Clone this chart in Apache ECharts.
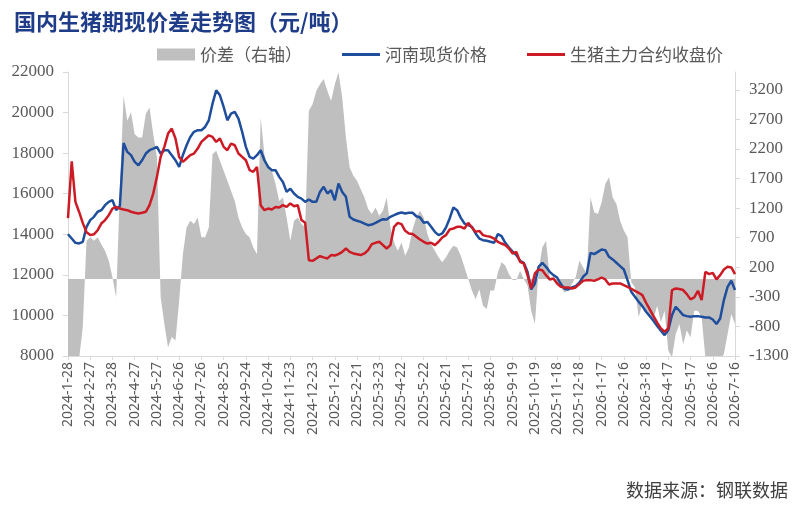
<!DOCTYPE html>
<html>
<head>
<meta charset="utf-8">
<script src="https://cdn.jsdelivr.net/npm/echarts@6/dist/echarts.min.js"></script>
<style>
  html, body { margin: 0; padding: 0; background: #fff; }
  #main { width: 800px; height: 506px; }
</style>
</head>
<body>
<div id="main"></div>
<script>
// 5-day steps from 2024-1-28, labels every 30 days
const startDate = [2024, 1, 28]
const stepDays = 5
const pointCount = 181

const rightTicks = [-1300, -800, -300, 200, 700, 1200, 1700, 2200, 2700, 3200]

// 河南现货价格 (left axis)
const henanSpot = [
  14000, 13790, 13580, 13550, 13630, 14370, 14700, 14860, 15110, 15190,
  15435, 15600, 15680, 15190, 15400, 18500, 18060, 17900, 17570, 17400,
  17650, 17980, 18145, 18225, 18310, 17980, 18145, 18145, 17900, 17650,
  17320, 17900, 18390, 18800, 19050, 19130, 19130, 19290, 19620, 20440,
  21100, 20850, 20280, 19620, 19950, 20030, 19700, 19050, 18310, 17815,
  17730, 17900, 18145, 17650, 17320, 17160, 17160, 16830, 16580, 16090,
  16250, 16010, 15845, 15760, 15600, 15715, 15600, 15600, 16090, 16340,
  16010, 16170, 15680, 16500, 16090, 15845, 14860, 14730, 14665, 14610,
  14530, 14450, 14480, 14565, 14665, 14745, 14730, 14860, 14940, 15025,
  15075, 15025, 15060, 15060, 14890, 14830, 14565, 14610, 14370, 14120,
  13960, 14040, 14335, 14780, 15320, 15190, 14810, 14530, 14450, 14370,
  14040, 13790, 13710, 13680, 13630, 13580, 14010, 13910, 13580, 13350,
  13150, 12970, 12690, 12595, 12150, 11280, 11575, 12395, 12595, 12395,
  12150, 11985, 11870, 11545, 11315, 11280, 11380, 11445, 11610, 11905,
  12070, 13085, 13020, 13135, 13250, 13220, 12890, 12760, 12595, 12430,
  12265, 11740, 11165, 10920, 10675, 10460, 10180, 9965, 9735, 9475,
  9245, 9030, 9280, 10015, 10425, 10230, 10015, 9965, 9935, 9965,
  9965, 9935, 9900, 9900, 9800, 9575, 9850, 10755, 11410, 11710,
  11250
]

// 生猪主力合约收盘价 (left axis)
const futuresClose = [
  14800, 17600, 15600, 15100, 14550, 14100, 13960, 14000, 14200, 14530,
  14700, 14940, 15270, 15350, 15270, 15220, 15190, 15110, 15060, 15025,
  15060, 15110, 15435, 16010, 16830, 17815, 18310, 18965, 19210, 18720,
  17815, 17570, 17735, 17900, 17980, 18225, 18555, 18720, 18880, 18800,
  18555, 18720, 18310, 18145, 18470, 18390, 17980, 17815, 17650, 17160,
  17080, 17320, 15435, 15190, 15270, 15220, 15350, 15320, 15435, 15350,
  15520, 15385, 15435, 14700, 14565, 12725, 12690, 12810, 12920, 12860,
  12810, 12975, 12955, 13020, 13135, 13300, 13135, 13055, 13020, 12975,
  13055, 13220, 13515, 13580, 13630, 13465, 13300, 13465, 14370, 14565,
  14500, 14170, 14040, 14010, 13875, 13745, 13630, 13545, 13580, 13465,
  13630, 13840, 13960, 14235, 14285, 14370, 14370, 14285, 14565, 14335,
  14120, 14170, 13960, 13910, 13875, 13790, 13630, 13545, 13465, 13300,
  13050, 13135, 12645, 12560, 11985, 11330, 12070, 12265, 12230, 11985,
  11775, 11820, 11575, 11410, 11380, 11380, 11330, 11380, 11545, 11710,
  11740, 11740, 11710, 11775, 11870, 11775, 11525, 11575, 11575, 11575,
  11495, 11410, 11315, 11215, 11115, 11000, 10625, 10295, 9965, 9640,
  9360, 9195, 9360, 11250, 11330, 11300, 11250, 11050, 10790, 10890,
  11215, 10755, 12150, 12035, 12100, 11775, 11985, 12265, 12395, 12365,
  12035
]

// 价差 (right axis)
const spread = [
  -1400, -1400, -1400, -1350, -800, 650, 705, 650, 705, 590,
  480, 310, 30, -310, 1500, 3100, 2675, 2820, 2450, 2395,
  2395, 2790, 2900, 2450, 2060, -300, -760, -1150, -980, -1040,
  -365, 420, 870, 985, 930, 1040, 705, 705, 870, 2110,
  2170, 2000, 1830, 1660, 1490, 1320, 1040, 870, 760, 705,
  535, 420, 2730, 2110, 1890, 1830, 1610, 1320, 1380, 1040,
  650, 987, 1040, 930, 875, 2845, 2955, 3180, 3295, 3380,
  3180, 3010, 3295, 3490, 3070, 2395, 1890, 1745, 1660, 1520,
  1380, 1185, 1100, 1210, 1070, 1155, 1380, 875, 620, 480,
  620, 395, 535, 845, 1040, 1155, 1040, 760, 590, 480,
  370, 285, 370, 480, 565, 535, 395, 200, 0, -195,
  -340, -170, -450, -505, -195, -195, 110, 285, 230, 85,
  -15, -15, 140, 0, -110, -535, -760, 140, 535, 650,
  30, -25, -80, -140, -225, -195, -80, 30, 310, 200,
  85, 1380, 1130, 1100, 1295, 1605, 1720, 1380, 1270, 985,
  820, 705, -55, -140, -645, -420, -535, -590, -675, -450,
  -730, -535, -1210, -1320, -930, -760, -1100, -870, -985, -535,
  -535, -645, -1320, -1380, -1380, -1380, -1380, -1265, -930, -590,
  -760
]

const categories = []
for (let i = 0; i < pointCount; i++) {
  const d = new Date(Date.UTC(startDate[0], startDate[1] - 1, startDate[2] + i * stepDays))
  categories.push(d.getUTCFullYear() + '-' + (d.getUTCMonth() + 1) + '-' + d.getUTCDate())
}

const blue = '#1f4e9c'
const red = '#cc1b24'
const gray = '#bfbfbf'
const axisColor = '#d9d9d9'
const labelColor = '#595959'
// thin line legend icon (invisible corner points keep the 38x12 box)
const lineIcon = 'path://M0,0L0,0M0,12L0,12M0,4.6L38,4.6L38,7.4L0,7.4Z'

var myChart = echarts.init(document.getElementById('main'))
myChart.setOption({
  animation: false,
  title: {
    text: '国内生猪期现价差走势图（元/吨）',
    left: 9, top: 6,
    textStyle: { fontSize: 22, fontWeight: 'bold', color: '#1f3c88', fontFamily: 'Noto Sans CJK SC' },
  },
  legend: {
    left: 152, top: 41,
    itemWidth: 38, itemHeight: 12, itemGap: 40,
    textStyle: { fontSize: 17, color: labelColor, fontFamily: 'Noto Sans CJK SC' },
    data: [
      { name: '价差（右轴）', icon: 'rect' },
      { name: '河南现货价格', icon: lineIcon },
      { name: '生猪主力合约收盘价', icon: lineIcon },
    ],
  },
  grid: { left: 68, right: 65, top: 72, bottom: 150 },
  xAxis: {
    type: 'category',
    data: categories,
    boundaryGap: false,
    axisLine: { onZero: false, lineStyle: { color: axisColor } },
    axisTick: { interval: 5, length: 4, lineStyle: { color: axisColor } },
    axisLabel: { interval: 5, rotate: 90, margin: 6, fontSize: 14, color: labelColor, fontFamily: 'Noto Sans' },
  },
  yAxis: [
    {
      type: 'value', min: 8000, max: 22000, interval: 2000,
      splitLine: { show: false },
      axisLine: { show: true, lineStyle: { color: axisColor } },
      axisTick: { show: true, length: 5, lineStyle: { color: axisColor } },
      axisLabel: { margin: 14, fontSize: 17, color: labelColor, fontFamily: 'Liberation Serif', formatter: v => String(v) },
    },
    {
      type: 'value', position: 'right', min: -1300, max: 3500,
      splitLine: { show: false },
      axisLine: { show: true, lineStyle: { color: axisColor } },
      axisTick: { show: true, length: 5, customValues: rightTicks, lineStyle: { color: axisColor } },
      axisLabel: { margin: 14, fontSize: 17, color: labelColor, fontFamily: 'Liberation Serif', customValues: rightTicks, formatter: v => String(v) },
    },
  ],
  series: [
    {
      name: '价差（右轴）', type: 'line', yAxisIndex: 1, data: spread,
      symbol: 'none', lineStyle: { width: 0 },
      itemStyle: { color: gray }, areaStyle: { color: gray, opacity: 1 },
    },
    {
      name: '河南现货价格', type: 'line', yAxisIndex: 0, data: henanSpot,
      symbol: 'none', lineStyle: { width: 2.5, color: blue }, itemStyle: { color: blue },
    },
    {
      name: '生猪主力合约收盘价', type: 'line', yAxisIndex: 0, data: futuresClose,
      symbol: 'none', lineStyle: { width: 2.5, color: red }, itemStyle: { color: red },
    },
  ],
  graphic: [
    {
      type: 'text', right: 12, top: 481,
      style: { text: '数据来源：钢联数据', fontSize: 18, fill: '#404040', fontFamily: 'Noto Sans CJK SC' },
    },
  ],
})
</script>
</body>
</html>
